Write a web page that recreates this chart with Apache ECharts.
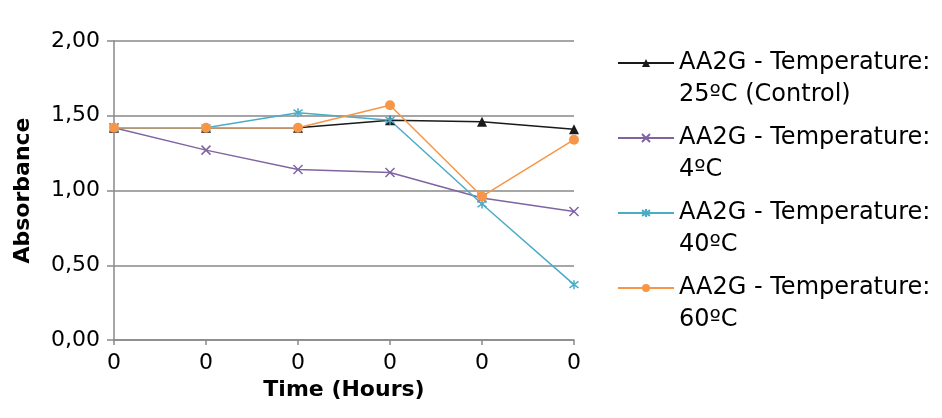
<!DOCTYPE html>
<html>
<head>
<meta charset="utf-8">
<script src="https://cdn.jsdelivr.net/npm/echarts@6/dist/echarts.min.js"></script>
<style>
html,body{margin:0;padding:0;background:#fff;}
#chart{width:942px;height:418px;}
</style>
</head>
<body>
<div id="chart"></div>
<script>
// Tick labels on the time axis (as shown in the source)
var hours = ['0', '0', '0', '0', '0', '0'];
var yTicks = [0, 0.5, 1, 1.5, 2];

var names = [
  'AA2G - Temperature:\n25ºC (Control)',
  'AA2G - Temperature:\n4ºC',
  'AA2G - Temperature:\n40ºC',
  'AA2G - Temperature:\n60ºC'
];
var temp25 = [1.42, 1.42, 1.42, 1.47, 1.46, 1.41];
var temp4  = [1.42, 1.27, 1.14, 1.12, 0.95, 0.86];
var temp40 = [1.42, 1.42, 1.52, 1.47, 0.91, 0.37];
var temp60 = [1.42, 1.42, 1.42, 1.57, 0.96, 1.34];

var FONT = 'DejaVu Sans';
var crossPath = 'path://M0,0L10,10M10,0L0,10';
var starPath = 'path://M0,0L10,10M10,0L0,10M5,-2L5,12';

function mk(name, data, color, symbol, size, stroke) {
  return {
    name: name,
    type: 'line',
    data: data,
    symbol: symbol,
    symbolSize: size,
    showAllSymbol: true,
    lineStyle: { color: color, width: 1.5 },
    itemStyle: stroke
      ? { color: color, borderColor: color, borderWidth: 1.5 }
      : { color: color, borderWidth: 0 },
    emphasis: { disabled: true },
    animation: false
  };
}

var chart = echarts.init(document.getElementById('chart'), null, { renderer: 'canvas' });
chart.setOption({
  animation: false,
  backgroundColor: '#ffffff',
  textStyle: { fontFamily: FONT },
  grid: { left: 114, right: 368, top: 41, bottom: 78, containLabel: false },
  xAxis: {
    type: 'category',
    data: hours,
    boundaryGap: false,
    name: 'Time (Hours)',
    nameLocation: 'middle',
    nameGap: 33,
    nameTextStyle: { fontFamily: FONT, fontSize: 22, fontWeight: 'bold', color: '#000' },
    axisLine: { show: true, lineStyle: { color: '#898989', width: 1.5 } },
    axisTick: { show: true, length: 5, lineStyle: { color: '#898989', width: 1.5 } },
    axisLabel: { fontFamily: FONT, fontSize: 22, color: '#000', margin: 12, interval: 0 },
    splitLine: { show: false }
  },
  yAxis: {
    type: 'value',
    min: yTicks[0],
    max: yTicks[yTicks.length - 1],
    interval: yTicks[1] - yTicks[0],
    name: 'Absorbance',
    nameLocation: 'middle',
    nameGap: 80,
    nameTextStyle: { fontFamily: FONT, fontSize: 22, fontWeight: 'bold', color: '#000' },
    axisLine: { show: true, lineStyle: { color: '#898989', width: 1.5 } },
    axisTick: { show: true, length: 7, lineStyle: { color: '#898989', width: 1.5 } },
    axisLabel: {
      fontFamily: FONT, fontSize: 22, color: '#000', margin: 14,
      formatter: function (v) { return v.toFixed(2).replace('.', ','); }
    },
    splitLine: { show: true, lineStyle: { color: '#898989', width: 1.5 } }
  },
  legend: {
    orient: 'vertical',
    left: 617,
    top: 15,
    padding: 0,
    itemWidth: 56,
    itemHeight: 10,
    itemGap: -21,
    selectedMode: false,
    formatter: function (n) { return ' \n' + n; },
    textStyle: { fontFamily: FONT, fontSize: 24, color: '#000', lineHeight: 32 },
    data: names
  },
  series: [
    mk(names[0], temp25, '#1a1a1a', 'triangle', 10, false),
    mk(names[1], temp4, '#8064a2', crossPath, 9, true),
    mk(names[2], temp40, '#4bacc6', starPath, 9, true),
    mk(names[3], temp60, '#f79646', 'circle', 10, false)
  ]
});
</script>
</body>
</html>
